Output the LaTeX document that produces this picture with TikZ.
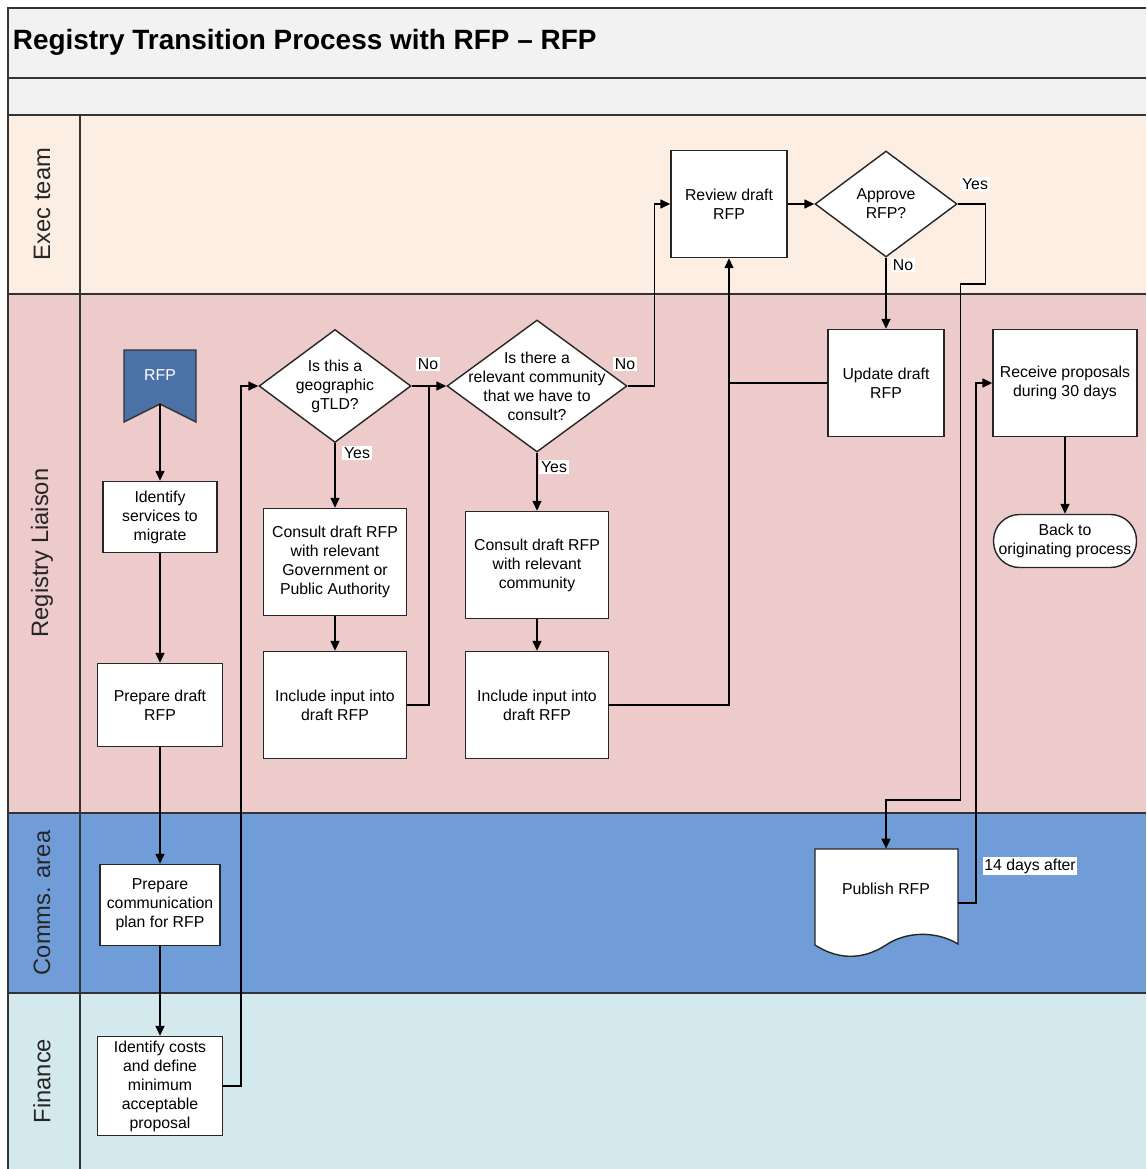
\documentclass[tikz,border=0pt]{standalone}
\usepackage{fontspec}
\setmainfont{Liberation Sans}
\usetikzlibrary{shapes.geometric,arrows.meta}
\definecolor{titlegray}{RGB}{242,242,242}
\definecolor{execfill}{RGB}{252,238,227}
\definecolor{liaisonfill}{RGB}{236,203,202}
\definecolor{commsfill}{RGB}{112,157,216}
\definecolor{financefill}{RGB}{212,233,238}
\definecolor{flagfill}{RGB}{74,114,168}
\tikzset{
  lane/.style={draw=black!80, line width=0.8pt},
  box/.style={draw=black!85, fill=white, line width=0.8pt, align=center, inner sep=2pt, font=\fontsize{9}{10.8}\selectfont},
  decision/.style={diamond, draw=black!85, fill=white, line width=0.8pt, inner sep=0pt},
  dtext/.style={align=center, inner sep=0pt, font=\fontsize{9}{10.8}\selectfont},
  flow/.style={line width=0.8pt, -{Triangle[length=2mm,width=1.8mm]}},
  link/.style={line width=0.8pt},
  yn/.style={fill=white, inner sep=1pt, font=\fontsize{9}{10.8}\selectfont},
  lanelabel/.style={rotate=90, text=black!85, font=\fontsize{13.5}{16}\selectfont}
}
\begin{document}
\begin{tikzpicture}[x=0.02cm,y=-0.02cm]
\useasboundingbox (0,0) rectangle (1146,1169);
% swimlanes
\fill[titlegray] (8,8) rectangle (1146,115);
\fill[execfill] (8,115) rectangle (1146,294);
\fill[liaisonfill] (8,294) rectangle (1146,813);
\fill[commsfill] (8,813) rectangle (1146,993);
\fill[financefill] (8,993) rectangle (1146,1169);
\draw[lane] (1146,8) -- (8,8) -- (8,1169);
\draw[lane] (8,78) -- (1146,78);
\draw[lane] (8,115) -- (1146,115);
\draw[lane] (8,294) -- (1146,294);
\draw[lane] (8,813) -- (1146,813);
\draw[lane] (8,993) -- (1146,993);
\draw[lane] (80,115) -- (80,1169);
\node[anchor=west, inner sep=2pt, font=\bfseries\fontsize{15.9}{18}\selectfont] (title) at (9,42) {Registry Transition Process with RFP -- RFP};
\node[lanelabel] (execlbl) at (42,204) {Exec team};
\node[lanelabel] (liaisonlbl) at (42,553) {Registry Liaison};
\node[lanelabel] (commslbl) at (42,903) {Comms. area};
\node[lanelabel] (financelbl) at (42,1081) {Finance};
% start flag
\filldraw[fill=flagfill, draw=black!80, line width=0.8pt] (124,350) -- (196,350) -- (196,422) -- (160,404) -- (124,422) -- cycle;
\node[text=white, font=\fontsize{9}{10.8}\selectfont] (rfp) at (160,375) {RFP};
\coordinate (rfptip) at (160,404);
% first column
\node[box, minimum width=2.28cm, minimum height=1.42cm] (ident) at (160,517) {Identify\\services to\\migrate};
\node[box, minimum width=2.5cm, minimum height=1.66cm] (prepdraft) at (160,705) {Prepare draft\\RFP};
\node[box, minimum width=2.4cm, minimum height=1.62cm] (prepcomm) at (160,905) {Prepare\\communication\\plan for RFP};
\node[box, minimum width=2.5cm, minimum height=1.98cm] (costs) at (160,1086) {Identify costs\\and define\\minimum\\acceptable\\proposal};
% decisions
\node[decision, minimum width=3.04cm, minimum height=2.26cm, label={[dtext]center:Is this a\\geographic\\gTLD?}] (geo) at (335,386) {};
\node[box, minimum width=2.86cm, minimum height=2.14cm] (consgov) at (335,562) {Consult draft RFP\\with relevant\\Government or\\Public Authority};
\node[box, minimum width=2.86cm, minimum height=2.14cm] (incgov) at (335,705) {Include input into\\draft RFP};
\node[decision, minimum width=3.6cm, minimum height=2.64cm, label={[dtext]center:Is there a\\relevant community\\that we have to\\consult?}] (comm) at (537,386) {};
\node[box, minimum width=2.86cm, minimum height=2.14cm] (conscom) at (537,565) {Consult draft RFP\\with relevant\\community};
\node[box, minimum width=2.86cm, minimum height=2.14cm] (inccom) at (537,705) {Include input into\\draft RFP};
% exec review
\node[box, minimum width=2.32cm, minimum height=2.14cm] (review) at (729,204) {Review draft\\RFP};
\node[decision, minimum width=2.84cm, minimum height=2.12cm, label={[dtext]center:Approve\\RFP?}] (approve) at (886,204) {};
\node[box, minimum width=2.32cm, minimum height=2.14cm] (update) at (886,383) {Update draft\\RFP};
\node[box, minimum width=2.88cm, minimum height=2.14cm] (receive) at (1065,383) {Receive proposals\\during 30 days};
\node[box, rounded corners=0.52cm, minimum width=2.86cm, minimum height=1.06cm, inner sep=0pt] (back) at (1065,541) {Back to\\originating process};
% publish document
\node[minimum width=2.86cm, minimum height=1.9cm, inner sep=0pt] (pub) at (886,896.5) {};
\filldraw[fill=white, draw=black!85, line width=0.8pt] (815,849) -- (958,849) -- (958,944) .. controls (935,930) and (905,932) .. (886,945) .. controls (860,962) and (835,958) .. (815,945) -- cycle;
\node[font=\fontsize{9}{10.8}\selectfont] (pubtxt) at (886,889) {Publish RFP};
% connectors
\coordinate (joinA) at (429,386);
\coordinate (joinB) at (729,383);
\draw[flow] (rfptip) -- (ident);
\draw[flow] (ident) -- (prepdraft);
\draw[flow] (prepdraft) -- (prepcomm);
\draw[flow] (prepcomm) -- (costs);
\draw[flow] (costs.east) -- ++(18,0) |- (geo.west);
\draw[flow] (geo) -- (consgov);
\draw[flow] (geo.east) -- (comm.west);
\draw[flow] (consgov) -- (incgov);
\draw[link] (incgov.east) -| (joinA);
\draw[flow] (comm) -- (conscom);
\draw[flow] (comm.east) -- ++(27,0) |- (review.west);
\draw[flow] (conscom) -- (inccom);
\draw[flow] (inccom.east) -| (review.south);
\draw[link] (update.west) -- (joinB);
\draw[flow] (review) -- (approve);
\draw[flow] (approve) -- (update);
\draw[flow] (approve.east) -- ++(28,0) -- ++(0,80) -- ++(-25,0) -- ++(0,516) -| (pub.north);
\draw[flow] ([yshift=-0.13cm]pub.east) -- ++(18,0) |- (receive.west);
\draw[flow] (receive) -- (back);
% branch labels
\node[yn] (geoyes) at (357,453) {Yes};
\node[yn] (geono) at (428,364) {No};
\node[yn] (commyes) at (554,467) {Yes};
\node[yn] (commno) at (625,364) {No};
\node[yn] (apprno) at (903,265) {No};
\node[yn] (appryes) at (975,184) {Yes};
\node[yn] (days) at (1030,866) {14 days after};
\end{tikzpicture}
\end{document}
